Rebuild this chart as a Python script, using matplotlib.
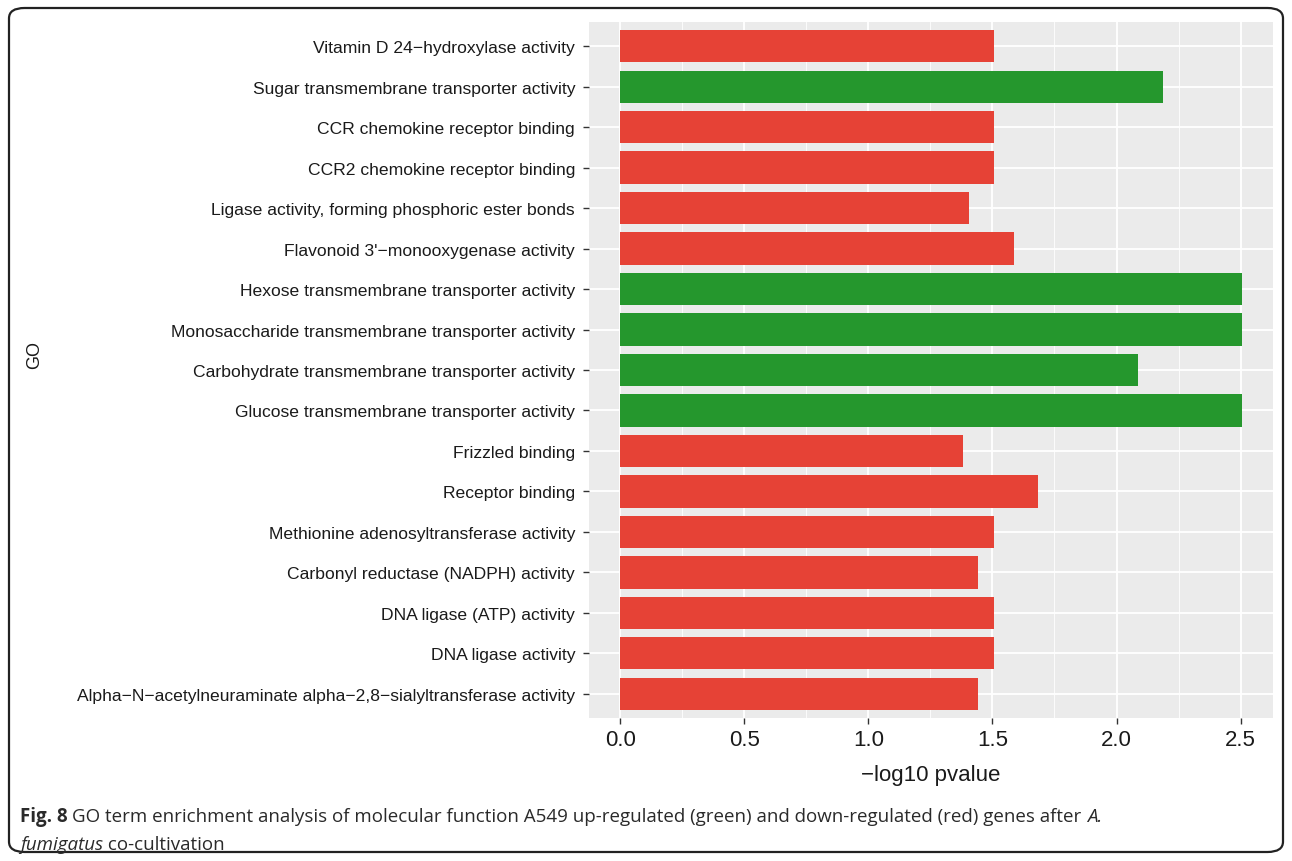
import matplotlib
matplotlib.use("Agg")
import matplotlib.pyplot as plt
from matplotlib.patches import FancyBboxPatch
from matplotlib.ticker import MultipleLocator

terms = [
    "Vitamin D 24\u2212hydroxylase activity",
    "Sugar transmembrane transporter activity",
    "CCR chemokine receptor binding",
    "CCR2 chemokine receptor binding",
    "Ligase activity, forming phosphoric ester bonds",
    "Flavonoid 3'\u2212monooxygenase activity",
    "Hexose transmembrane transporter activity",
    "Monosaccharide transmembrane transporter activity",
    "Carbohydrate transmembrane transporter activity",
    "Glucose transmembrane transporter activity",
    "Frizzled binding",
    "Receptor binding",
    "Methionine adenosyltransferase activity",
    "Carbonyl reductase (NADPH) activity",
    "DNA ligase (ATP) activity",
    "DNA ligase activity",
    "Alpha\u2212N\u2212acetylneuraminate alpha\u22122,8\u2212sialyltransferase activity",
]
neg_log10_p = [1.505, 2.186, 1.505, 1.505, 1.407, 1.585, 2.505, 2.505, 2.085,
               2.505, 1.380, 1.683, 1.505, 1.440, 1.505, 1.505, 1.440]
regulation = ["down", "up", "down", "down", "down", "down", "up", "up", "up",
              "up", "down", "down", "down", "down", "down", "down", "down"]
x_ticks = [0.0, 0.5, 1.0, 1.5, 2.0, 2.5]

caption_line1 = [
    ("Fig. 8 ", "bold", "normal"),
    ("GO term enrichment analysis of molecular function A549 up-regulated (green) "
     "and down-regulated (red) genes after ", "normal", "normal"),
    ("A.", "normal", "italic"),
]
caption_line2 = [
    ("fumigatus", "normal", "italic"),
    (" co-cultivation", "normal", "normal"),
]

colors = {"up": "#25972D", "down": "#E64236"}

W, H = 1292, 862
fig = plt.figure(figsize=(W / 100, H / 100), dpi=100)
fig.patch.set_facecolor("white")

# rounded frame around the whole figure
frame = FancyBboxPatch((9 / W, 9 / H), (W - 18) / W, (H - 18) / H,
                       boxstyle="round,pad=0,rounding_size=0.012",
                       transform=fig.transFigure, facecolor="none",
                       edgecolor="#222222", linewidth=1.6)
fig.patches.append(frame)

left, right, top, bottom = 589, 1273, 23, 719
ax = fig.add_axes([left / W, 1 - bottom / H, (right - left) / W, (bottom - top) / H])
ax.set_facecolor("#EBEBEB")

n = len(terms)
ypos = list(range(n))[::-1]
bar_colors = [colors[r] for r in regulation]
ax.barh(ypos, neg_log10_p, height=0.8, color=bar_colors, edgecolor="none", zorder=3)

vmax = max(neg_log10_p)
ax.set_ylim(-0.6, n - 1 + 0.6)
ax.set_xlim(-0.05 * vmax, 1.05 * vmax)
ax.set_yticks(ypos)
ax.set_yticklabels(terms, fontfamily="Liberation Sans", fontsize=12.6, color="#1a1a1a")
ax.set_xticks(x_ticks)
ax.set_xticklabels([f"{t:.1f}" for t in x_ticks], fontfamily="Liberation Sans",
                   fontsize=16, color="#1a1a1a")
ax.xaxis.set_minor_locator(MultipleLocator(0.25))

ax.grid(which="major", color="white", linewidth=1.3, zorder=0)
ax.grid(which="minor", axis="x", color="white", linewidth=0.6, zorder=0)
ax.set_axisbelow(True)
for s in ax.spines.values():
    s.set_visible(False)
ax.tick_params(axis="both", which="major", length=4, width=1.0, color="#333333")
ax.tick_params(axis="y", which="major", pad=6)
ax.tick_params(axis="x", which="major", pad=4)
ax.tick_params(axis="x", which="minor", length=0)

ax.set_xlabel("\u2212log10 pvalue", fontfamily="Liberation Sans", fontsize=16,
              color="#1a1a1a", labelpad=10)

fig.text(35 / W, 1 - 355 / H, "GO", rotation=90, ha="center", va="center",
         fontfamily="Liberation Sans", fontsize=13, color="#1a1a1a")

# caption, assembled from pieces so the bold / italic runs sit side by side
renderer = fig.canvas.get_renderer()


def put_line(pieces, x0, y0):
    x = x0
    for txt, weight, style in pieces:
        t = fig.text(x / W, 1 - y0 / H, txt, fontfamily="Open Sans", fontweight=weight,
                     fontstyle=style, fontsize=13.5, ha="left", va="center",
                     color="#2a2a2a")
        bb = t.get_window_extent(renderer=renderer)
        x += bb.width


put_line(caption_line1, 20, 817)
put_line(caption_line2, 20, 845)

fig.savefig("out.png", dpi=100)
